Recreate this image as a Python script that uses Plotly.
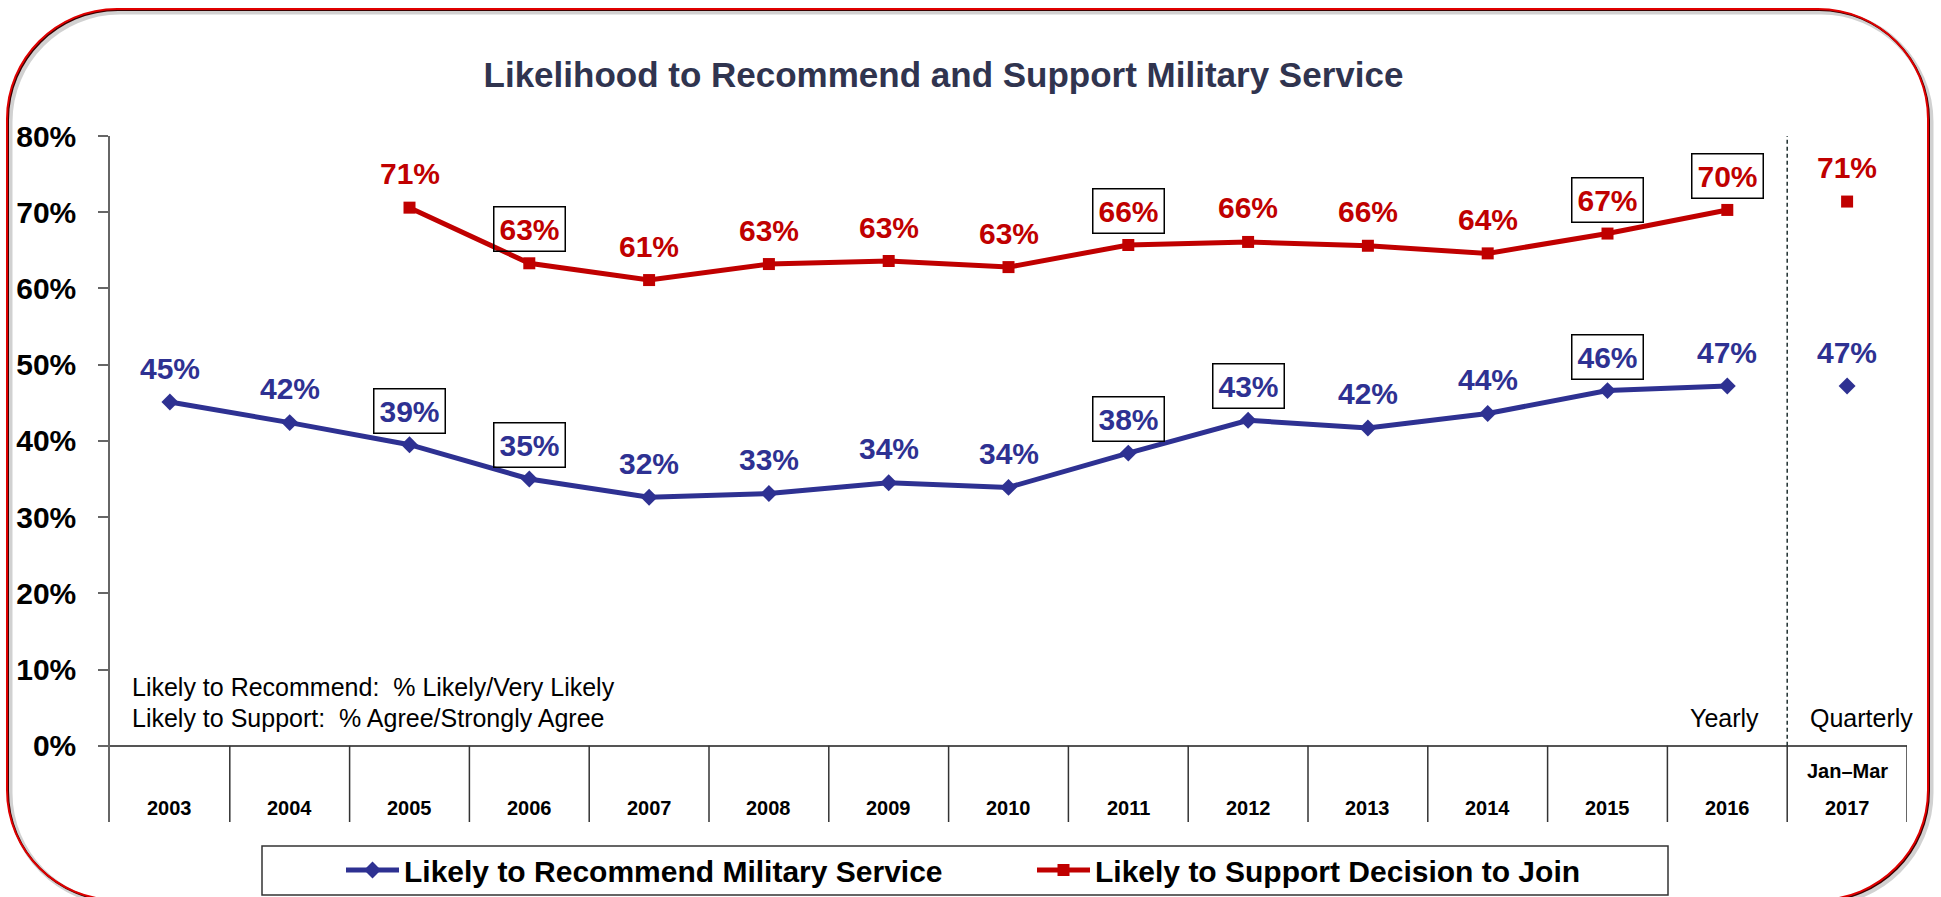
import plotly.graph_objects as go

# ---------------- data ----------------
categories = ["2003", "2004", "2005", "2006", "2007", "2008", "2009", "2010",
              "2011", "2012", "2013", "2014", "2015", "2016", "2017"]
quarter_label = "Jan\u2013Mar"

recommend_yearly = [45.1, 42.4, 39.5, 35.0, 32.6, 33.1, 34.5, 33.9, 38.4, 42.7, 41.7, 43.6, 46.6, 47.2]
support_yearly = [None, None, 70.6, 63.3, 61.1, 63.2, 63.6, 62.8, 65.7, 66.1, 65.6, 64.6, 67.2, 70.3]
recommend_quarter = [47.2]
support_quarter = [71.4]

recommend_labels = ["45%", "42%", "39%", "35%", "32%", "33%", "34%", "34%", "38%", "43%",
                    "42%", "44%", "46%", "47%", "47%"]
support_labels = [None, None, "71%", "63%", "61%", "63%", "63%", "63%", "66%", "66%",
                  "66%", "64%", "67%", "70%", "71%"]
recommend_boxed = ["2005", "2006", "2011", "2012", "2015"]
support_boxed = ["2006", "2011", "2015", "2016"]

y_ticks = [0, 10, 20, 30, 40, 50, 60, 70, 80]
y_tick_labels = [f"{v}%" for v in y_ticks]

# ---------------- style ----------------
BLUE = "#2e3192"
RED = "#c00000"
FONT = "Liberation Sans, Arial, sans-serif"
W_FIG, H_FIG = 1941, 897
ML, MR, MT, MB = 110, 34, 136, 75
PW = W_FIG - ML - MR
PH = H_FIG - MT - MB


def px_x(px):
    return (px - ML) / PW


def px_y(py):
    return (H_FIG - MB - py) / PH


n = len(categories)
xs = list(range(n))
x_year = xs[:-1]
x_quarter = xs[-1:]

fig = go.Figure()
fig.add_trace(go.Scatter(
    x=x_year, y=recommend_yearly, mode="lines+markers",
    name="Likely to Recommend Military Service",
    line=dict(color=BLUE, width=5),
    marker=dict(symbol="diamond", size=13, color=BLUE),
    connectgaps=False, hoverinfo="skip"))
fig.add_trace(go.Scatter(
    x=x_year, y=support_yearly, mode="lines+markers",
    name="Likely to Support Decision to Join",
    line=dict(color=RED, width=5),
    marker=dict(symbol="square", size=12, color=RED),
    connectgaps=False, hoverinfo="skip"))
fig.add_trace(go.Scatter(
    x=x_quarter, y=recommend_quarter, mode="markers", showlegend=False,
    marker=dict(symbol="diamond", size=13, color=BLUE), hoverinfo="skip"))
fig.add_trace(go.Scatter(
    x=x_quarter, y=support_quarter, mode="markers", showlegend=False,
    marker=dict(symbol="square", size=12, color=RED), hoverinfo="skip"))

annotations = []
rec_all = recommend_yearly + recommend_quarter
sup_all = support_yearly + support_quarter
for i, cat in enumerate(categories):
    for vals, labs, boxed, col in ((rec_all, recommend_labels, recommend_boxed, BLUE),
                                   (sup_all, support_labels, support_boxed, RED)):
        if vals[i] is None or labs[i] is None:
            continue
        is_box = cat in boxed
        annotations.append(dict(
            x=i, y=vals[i], xref="x", yref="y", text=labs[i], showarrow=False,
            yshift=34, xanchor="center", yanchor="middle",
            font=dict(family=FONT, size=30, color=col, weight="bold"),
            bordercolor="#000000" if is_box else "rgba(0,0,0,0)",
            borderwidth=1.5 if is_box else 0, borderpad=5))
    # category labels
    annotations.append(dict(
        x=i, y=px_y(808), xref="x", yref="paper", text=cat, showarrow=False,
        xanchor="center", yanchor="middle",
        font=dict(family=FONT, size=20, color="#000000", weight="bold")))
annotations.append(dict(
    x=xs[-1], y=px_y(771), xref="x", yref="paper", text=quarter_label, showarrow=False,
    xanchor="center", yanchor="middle",
    font=dict(family=FONT, size=20, color="#000000", weight="bold")))

# notes
note_font = dict(family=FONT, size=25, color="#000000")
annotations += [
    dict(x=px_x(130), y=px_y(687), xref="paper", yref="paper", xanchor="left", yanchor="middle",
         text="Likely to Recommend:\u00a0 % Likely/Very Likely", showarrow=False, font=note_font),
    dict(x=px_x(130), y=px_y(718), xref="paper", yref="paper", xanchor="left", yanchor="middle",
         text="Likely to Support:\u00a0 % Agree/Strongly Agree", showarrow=False, font=note_font),
    dict(x=px_x(1724), y=px_y(718), xref="paper", yref="paper", xanchor="center", yanchor="middle",
         text="Yearly", showarrow=False, font=note_font),
    dict(x=px_x(1861), y=px_y(718), xref="paper", yref="paper", xanchor="center", yanchor="middle",
         text="Quarterly", showarrow=False, font=note_font),
]

shapes = []
# category separators below the axis
for b in range(n):
    shapes.append(dict(type="line", xref="x", yref="y", x0=b + 0.5, x1=b + 0.5, y0=0, y1=-10,
                       line=dict(color="#333333", width=1.5)))
# yearly / quarterly divider
shapes.append(dict(type="line", xref="x", yref="y", x0=n - 1.5, x1=n - 1.5, y0=0, y1=80,
                   line=dict(color="#1f2f2f", width=1.5, dash="4px,3px")))


# rounded outer frame
def rounded_path(x0, y0, x1, y1, r, dx=0, dy=0):
    k = 0.5523 * r
    x0, x1, y0, y1 = x0 + dx, x1 + dx, y0 + dy, y1 + dy
    pts = [
        ("M", [(x0 + r, y0)]),
        ("L", [(x1 - r, y0)]),
        ("C", [(x1 - r + k, y0), (x1, y0 + r - k), (x1, y0 + r)]),
        ("L", [(x1, y1 - r)]),
        ("C", [(x1, y1 - r + k), (x1 - r + k, y1), (x1 - r, y1)]),
        ("L", [(x0 + r, y1)]),
        ("C", [(x0 + r - k, y1), (x0, y1 - r + k), (x0, y1 - r)]),
        ("L", [(x0, y0 + r)]),
        ("C", [(x0, y0 + r - k), (x0 + r - k, y0), (x0 + r, y0)]),
    ]
    s = ""
    for cmd, ps in pts:
        s += cmd + " ".join(f"{px_x(a):.5f},{px_y(b):.5f}" for a, b in ps)
    return s + "Z"


frame = (7, 9, 1928, 900, 110)
shapes.append(dict(type="path", xref="paper", yref="paper",
                   path=rounded_path(*frame, dx=3, dy=3),
                   line=dict(color="rgba(0,0,0,0.18)", width=5)))
shapes.append(dict(type="path", xref="paper", yref="paper",
                   path=rounded_path(*frame, dx=1, dy=1),
                   line=dict(color="#3a0000", width=2)))
shapes.append(dict(type="path", xref="paper", yref="paper",
                   path=rounded_path(*frame),
                   line=dict(color="#e00000", width=2)))
# legend box
shapes.append(dict(type="rect", xref="paper", yref="paper",
                   x0=px_x(262), x1=px_x(1668), y0=px_y(895), y1=px_y(846),
                   line=dict(color="#333333", width=1.5)))

fig.update_layout(
    width=W_FIG, height=H_FIG,
    margin=dict(l=ML, r=MR, t=MT, b=MB, autoexpand=False),
    paper_bgcolor="white", plot_bgcolor="white",
    title=dict(text="Likelihood to Recommend and Support Military Service",
               x=943.5 / W_FIG, xanchor="center", y=1 - 75 / H_FIG, yanchor="middle",
               font=dict(family=FONT, size=35, color="#30344f", weight="bold")),
    xaxis=dict(range=[-0.5, n - 0.5], showgrid=False, zeroline=False, showline=False,
               showticklabels=False, ticks="", fixedrange=True),
    yaxis=dict(range=[-10, 80], tickvals=y_ticks, ticktext=y_tick_labels,
               showgrid=False, zeroline=True, zerolinecolor="#555555", zerolinewidth=1.5,
               showline=True, linecolor="#666666", linewidth=1.5,
               ticks="outside", ticklen=10, tickcolor="#666666", tickwidth=1.5,
               ticklabelstandoff=16,
               tickfont=dict(family=FONT, size=30, color="#000000", weight="bold")),
    showlegend=True,
    legend=dict(orientation="h", x=px_x(341), xanchor="left", y=px_y(870), yanchor="middle",
                itemwidth=53, entrywidth=623, entrywidthmode="pixels",
                bgcolor="rgba(0,0,0,0)", borderwidth=0,
                font=dict(family=FONT, size=30, color="#000000", weight="bold")),
    annotations=annotations,
    shapes=shapes,
)

fig.write_html("out.html")
